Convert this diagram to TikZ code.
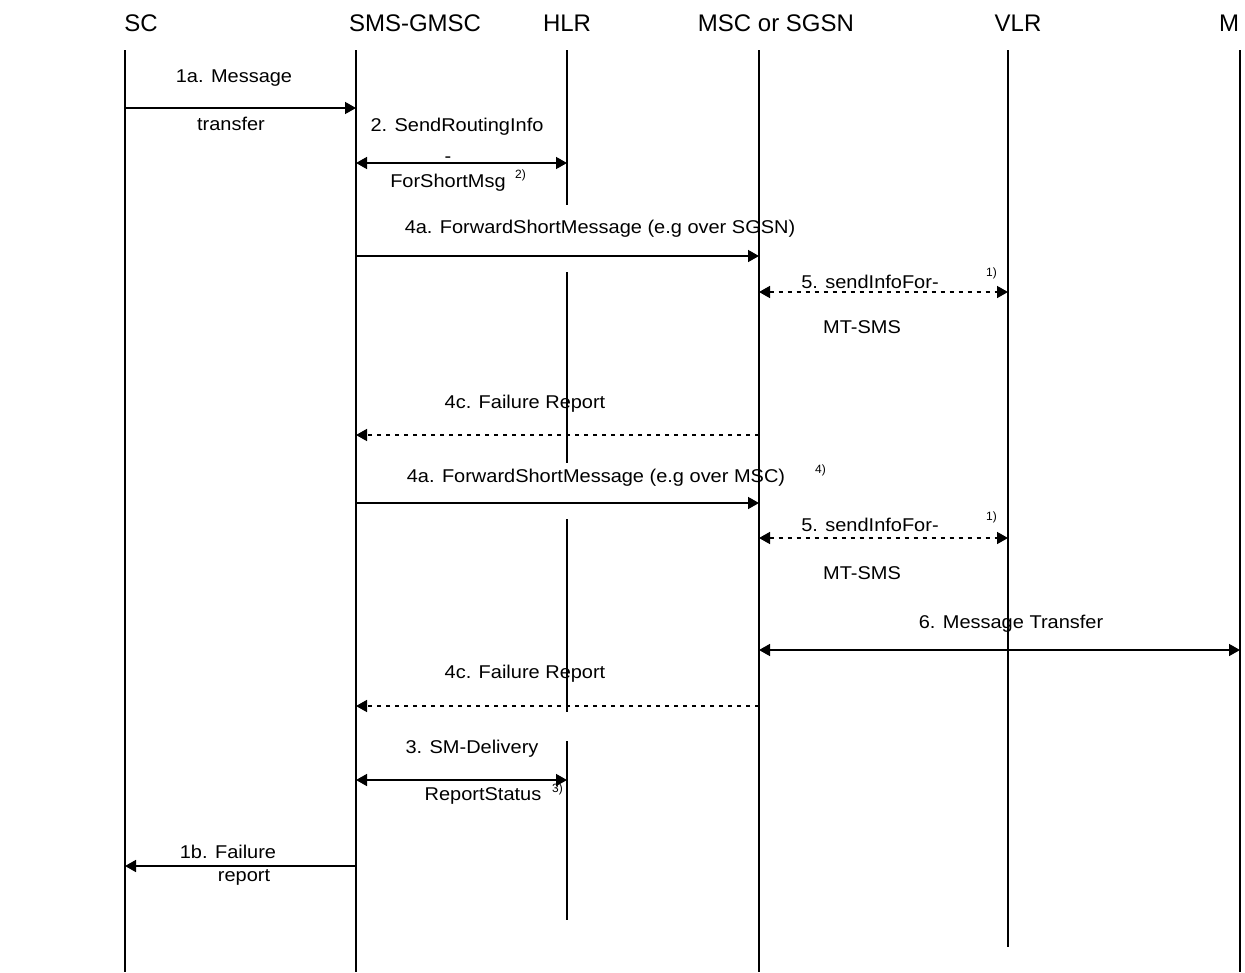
\documentclass[tikz,border=0pt]{standalone}
\usepackage{fontspec}
\setmainfont{Liberation Sans}
\newfontfamily\lblfont[FakeStretch=1.08]{Liberation Sans}
\usetikzlibrary{arrows.meta}
\begin{document}
\begin{tikzpicture}[x=1pt,y=-1pt,
  life/.style={line width=2pt},
  tip/.tip={Triangle[length=11pt,width=12pt]},
  msg/.style={line width=1.5pt,-tip},
  dmsg/.style={line width=1.5pt,tip-tip},
  dotmsg/.style={dash pattern=on 4pt off 5pt},
  lbl/.style={font=\lblfont\fontsize{18.5}{21}\selectfont,inner sep=0pt,anchor=base},
  hdr/.style={font=\fontsize{24}{28}\selectfont,inner sep=0pt,anchor=base},
  supl/.style={font=\fontsize{12}{14}\selectfont,inner sep=0pt,anchor=base west}]
\useasboundingbox (0,0) rectangle (1245,972);
% headers
\node[hdr] (hSC) at (141,31) {SC};
\node[hdr] (hGM) at (415,31) {SMS-GMSC};
\node[hdr] (hHLR) at (567,31) {HLR};
\node[hdr] (hMSC) at (776,31) {MSC or SGSN};
\node[hdr] (hVLR) at (1018,31) {VLR};
\node[hdr] (hM) at (1229,31) {M};
% lifeline ends
\coordinate (scT) at (125,50);  \coordinate (scB) at (125,972);
\coordinate (gmT) at (356,50);  \coordinate (gmB) at (356,972);
\coordinate (msT) at (759,50);  \coordinate (msB) at (759,972);
\coordinate (vlT) at (1008,50); \coordinate (vlB) at (1008,947);
\coordinate (mT) at (1240,50);  \coordinate (mB) at (1240,972);
\coordinate (hl1T) at (567,50);  \coordinate (hl1B) at (567,205);
\coordinate (hl2T) at (567,272); \coordinate (hl2B) at (567,463);
\coordinate (hl3T) at (567,519); \coordinate (hl3B) at (567,712);
\coordinate (hl4T) at (567,741); \coordinate (hl4B) at (567,920);
\draw[life] (scT) -- (scB);
\draw[life] (gmT) -- (gmB);
\draw[life] (msT) -- (msB);
\draw[life] (vlT) -- (vlB);
\draw[life] (mT) -- (mB);
\draw[life] (hl1T) -- (hl1B);
\draw[life] (hl2T) -- (hl2B);
\draw[life] (hl3T) -- (hl3B);
\draw[life] (hl4T) -- (hl4B);
% message end points
\coordinate (a1s) at (125,108); \coordinate (a1e) at (356,108);
\coordinate (a2s) at (356,163); \coordinate (a2e) at (567,163);
\coordinate (a3s) at (356,256); \coordinate (a3e) at (759,256);
\coordinate (a4s) at (759,292); \coordinate (a4e) at (1008,292);
\coordinate (a5s) at (759,435); \coordinate (a5e) at (356,435);
\coordinate (a6s) at (356,503); \coordinate (a6e) at (759,503);
\coordinate (a7s) at (759,538); \coordinate (a7e) at (1008,538);
\coordinate (a8s) at (759,650); \coordinate (a8e) at (1240,650);
\coordinate (a9s) at (759,706); \coordinate (a9e) at (356,706);
\coordinate (a10s) at (356,780); \coordinate (a10e) at (567,780);
\coordinate (a11s) at (356,866); \coordinate (a11e) at (125,866);
\draw[msg] (a1s) -- (a1e);
\draw[dmsg] (a2s) -- (a2e);
\draw[msg] (a3s) -- (a3e);
\draw[dmsg,dotmsg] (a4s) -- (a4e);
\draw[msg,dotmsg] (a5s) -- (a5e);
\draw[msg] (a6s) -- (a6e);
\draw[dmsg,dotmsg] (a7s) -- (a7e);
\draw[dmsg] (a8s) -- (a8e);
\draw[msg,dotmsg] (a9s) -- (a9e);
\draw[dmsg] (a10s) -- (a10e);
\draw[msg] (a11s) -- (a11e);
% labels
\node[lbl] (l1a) at (234,82) {1a. Message};
\node[lbl] (l1b) at (231,130) {transfer};
\node[lbl] (l2a) at (457,131) {2. SendRoutingInfo};
\node[lbl] (l2b) at (448,162) {-};
\node[lbl] (l2c) at (448,187) {ForShortMsg};
\node[supl] (s2) at (515,178) {2)};
\node[lbl] (l3) at (600,233) {4a. ForwardShortMessage (e.g over SGSN)};
\node[lbl] (l4a) at (870,288) {5. sendInfoFor-};
\node[supl] (s4) at (986,276) {1)};
\node[lbl] (l4b) at (862,333) {MT-SMS};
\node[lbl] (l5) at (525,408) {4c. Failure Report};
\node[lbl] (l6) at (596,482) {4a. ForwardShortMessage (e.g over MSC)};
\node[supl] (s6) at (815,473) {4)};
\node[lbl] (l7a) at (870,531) {5. sendInfoFor-};
\node[supl] (s7) at (986,520) {1)};
\node[lbl] (l7b) at (862,579) {MT-SMS};
\node[lbl] (l8) at (1011,628) {6. Message Transfer};
\node[lbl] (l9) at (525,678) {4c. Failure Report};
\node[lbl] (l10a) at (472,753) {3. SM-Delivery};
\node[lbl] (l10b) at (483,800) {ReportStatus};
\node[supl] (s10) at (552,792) {3)};
\node[lbl] (l11a) at (228,858) {1b. Failure};
\node[lbl] (l11b) at (244,881) {report};
\end{tikzpicture}
\end{document}
